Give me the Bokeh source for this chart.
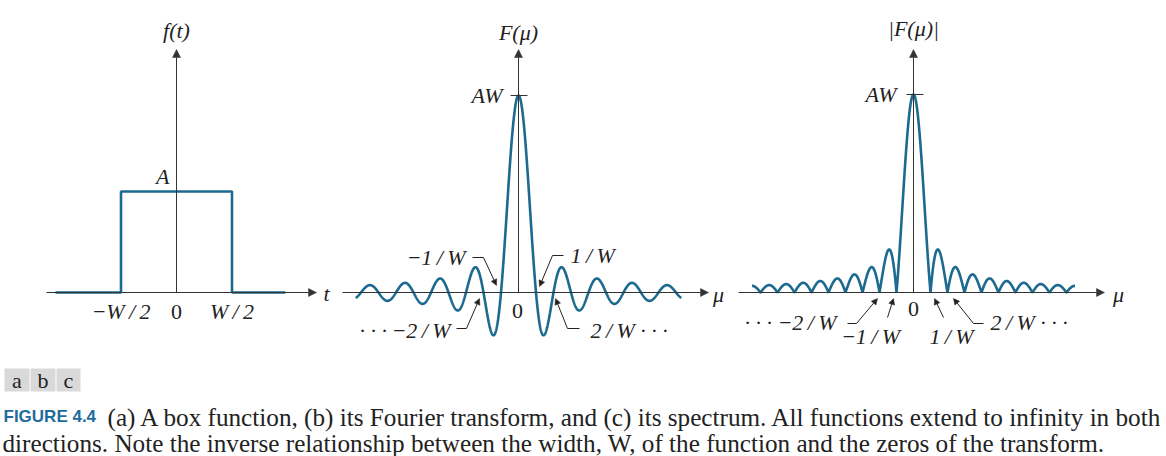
import numpy as np
from bokeh.plotting import figure
from bokeh.layouts import column, row
from bokeh.models import Range1d, Arrow, NormalHead, Label
from bokeh.embed import file_html
from bokeh.resources import INLINE

# ---------------- data ----------------
A = 1.0                      # box height (units of A)
W = 1.0                      # box width (units of W)
box_t = [-1.09, -0.5, -0.5, 0.5, 0.5, 0.98]     # t in units of W
box_f = [0, 0, 1, 1, 0, 0]                      # f(t) in units of A
box_tick_pos = [-0.5, 0.0, 0.5]
box_tick_labels = ["\u2212W\u2009/\u20092", "0", "W\u2009/\u20092"]

mu_extent_b = 9.3            # F(mu) drawn over |mu| <= 9.3/W
mu_extent_c = 9.5            # |F(mu)| drawn over |mu| <= 9.5/W
zero_pos = [-2, -1, 1, 2]    # zeros marked, in units of 1/W
zero_labels_b = ["\u00b7 \u00b7 \u00b7\u2009\u22122\u2009/\u2009W", "\u22121\u2009/\u2009W",
                 "1\u2009/\u2009W", "2\u2009/\u2009W \u00b7 \u00b7 \u00b7"]
zero_labels_c = ["\u00b7 \u00b7 \u00b7 \u22122\u2009/\u2009W", "\u22121\u2009/\u2009W",
                 "1\u2009/\u2009W", "2\u2009/\u2009W \u00b7 \u00b7 \u00b7"]

panel_titles = ["f(t)", "F(\u03bc)", "|F(\u03bc)|"]
peak_label = "AW"
box_label = "A"
panel_letters = ["a", "b", "c"]
caption_head = "FIGURE 4.4"
caption_line1 = ("(a) A box function, (b) its Fourier transform, and (c) its spectrum. "
                 "All functions extend to infinity in both")
caption_line2 = ("directions. Note the inverse relationship between the width, W, "
                 "of the function and the zeros of the transform.")

# Fourier transform of the box: F(mu) = A W sinc(mu W)
mu_b = np.linspace(-mu_extent_b, mu_extent_b, 2001) / W
F_b = A * W * np.sinc(mu_b * W)
mu_c = np.linspace(-mu_extent_c, mu_extent_c, 2001) / W
F_c = np.abs(A * W * np.sinc(mu_c * W))

# ---------------- styles ----------------
BLUE = "#1c6a8f"
INK = "#222222"
AX = "#333333"
SERIF = "Liberation Serif"
FS = "22px"


def make_fig(w, h, xr, yr):
    p = figure(width=w, height=h, x_range=Range1d(*xr), y_range=Range1d(*yr),
               output_backend="svg", toolbar_location=None, min_border=0,
               x_axis_location=None, y_axis_location=None,
               outline_line_color=None, background_fill_color="white",
               border_fill_color="white")
    p.grid.visible = False
    return p


def lab(p, x, y, text, align="center", italic=True, size=FS, color=INK, font=SERIF,
        bold=False, baseline="middle"):
    style = "bold" if bold else ("italic" if italic else "normal")
    p.add_layout(Label(x=x, y=y, text=text, text_align=align, text_baseline=baseline,
                       text_font=font, text_font_size=size, text_font_style=style,
                       text_color=color))


def arr(p, xs, ys, xe, ye, size=8, lw=1.0, color=AX):
    p.add_layout(Arrow(end=NormalHead(size=size, fill_color=color, line_color=color,
                                      line_width=0.5),
                       x_start=xs, y_start=ys, x_end=xe, y_end=ye,
                       line_color=color, line_width=lw))


# ---------------- panel a ----------------
# page-pixel helpers (annotation placement only)
ax_ = lambda px: (px - 176) / 111.0
ay_ = lambda py: (292 - py) / 101.0
pa = make_fig(335, 350, (ax_(0), ax_(335)), (ay_(350), ay_(0)))
arr(pa, ax_(46), 0, ax_(316), 0)
arr(pa, 0, 0, 0, ay_(49))
pa.line(box_t, box_f, line_color=BLUE, line_width=2.6)
lab(pa, 0, ay_(30), panel_titles[0])
lab(pa, ax_(169), ay_(176), box_label, align="right")
lab(pa, ax_(326), ay_(293), "t")
for xp, t in zip(box_tick_pos, box_tick_labels):
    lab(pa, xp * W, ay_(311), t, italic=(t != "0"))

# ---------------- panel b ----------------
bx = lambda px: (px - 518) / 17.5
by = lambda py: (292 - py) / 197.0
pb = make_fig(395, 350, (bx(335), bx(730)), (by(350), by(0)))
arr(pb, bx(342), 0, bx(708), 0)
arr(pb, 0, 0, 0, by(49))
pb.line(mu_b, F_b, line_color=BLUE, line_width=2.6)
pb.segment(x0=[bx(510)], y0=[A * W], x1=[bx(527)], y1=[A * W], line_color=AX, line_width=1)
lab(pb, bx(502), by(95), peak_label, align="right")
lab(pb, 0, by(32), panel_titles[1])
lab(pb, bx(718), by(294), "\u03bc")
lab(pb, bx(517), by(310), "0", italic=False)
# leaders: (text anchor, align, horizontal stub, arrow tip)
lead_b = [
    ((450, 330), "right", (456, 328), (466, 328), (479, 298)),
    ((465, 257), "right", (472, 257), (483, 257), (496, 285)),
    ((570, 255), "left", (563, 255), (552, 255), (539, 286)),
    ((590, 330), "left", (579, 328), (567, 328), (555, 298)),
]
for txt, (tp, al, s0, s1, tip) in zip(zero_labels_b, lead_b):
    lab(pb, bx(tp[0]), by(tp[1]), txt, align=al)
    pb.line([bx(s0[0]), bx(s1[0])], [by(s0[1]), by(s1[1])], line_color=INK, line_width=1)
    arr(pb, bx(s1[0]), by(s1[1]), bx(tip[0]), by(tip[1]), size=6, color=INK)

# ---------------- panel c ----------------
cx = lambda px: (px - 913) / 17.0
cy = lambda py: (292 - py) / 198.0
pc = make_fig(436, 350, (cx(730), cx(1166)), (cy(350), cy(0)))
arr(pc, cx(738), 0, cx(1104), 0)
arr(pc, 0, 0, 0, cy(49))
pc.line(mu_c, F_c, line_color=BLUE, line_width=2.6)
pc.segment(x0=[cx(906)], y0=[A * W], x1=[cx(923)], y1=[A * W], line_color=AX, line_width=1)
lab(pc, cx(896), cy(94), peak_label, align="right")
lab(pc, 0, cy(28), panel_titles[2])
lab(pc, cx(1118), cy(294), "\u03bc")
lab(pc, 0, cy(308), "0", italic=False)
lead_c = [
    ((836, 322), "right", (847, 323), (856, 323), (877, 298)),
    ((870, 336), "center", None, (887, 317), (893, 298)),
    ((951, 336), "center", None, (943, 317), (934, 298)),
    ((990, 322), "left", (983, 323), (973, 323), (953, 298)),
]
for txt, (tp, al, s0, s1, tip) in zip(zero_labels_c, lead_c):
    lab(pc, cx(tp[0]), cy(tp[1]), txt, align=al)
    if s0 is not None:
        pc.line([cx(s0[0]), cx(s1[0])], [cy(s0[1]), cy(s1[1])], line_color=INK, line_width=1)
    arr(pc, cx(s1[0]), cy(s1[1]), cx(tip[0]), cy(tip[1]), size=6, color=INK)

# ---------------- caption ----------------
cap = make_fig(1166, 106, (0, 1166), (456, 350))
cap.quad(left=[4, 30, 56], right=[29, 55, 80], top=[368] * 3, bottom=[391] * 3,
         fill_color="#d9d9d9", line_color=None)
for xc, letter in zip([16.5, 42.5, 68], panel_letters):
    lab(cap, xc, 380, letter, italic=False, size="22px")
lab(cap, 3, 416, caption_head, align="left", bold=True, color="#1f6c9c",
    font="Liberation Sans", size="17px")
lab(cap, 107, 417, caption_line1, align="left", italic=False, size="25.2px")
lab(cap, 2, 443, caption_line2, align="left", italic=False, size="25.2px")

layout = column(row(pa, pb, pc), cap)
open("out.html", "w").write(file_html(layout, INLINE))
